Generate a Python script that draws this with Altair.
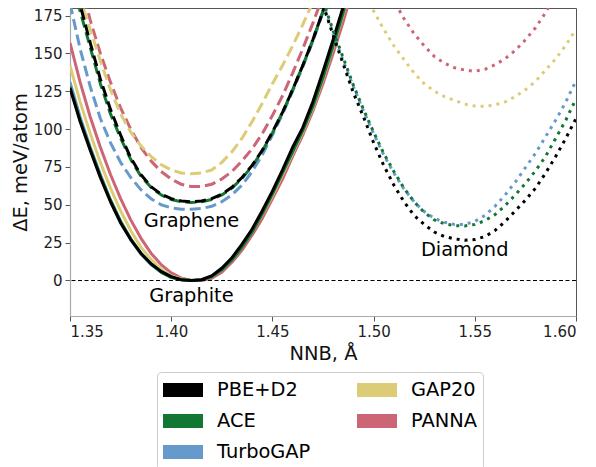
import altair as alt
import pandas as pd

# ---------------- data ----------------
models_legend_order = ["PBE+D2", "ACE", "TurboGAP", "GAP20", "PANNA"]
model_colors = ["#000000", "#117733", "#6699CC", "#DDCC77", "#CC6677"]
draw_order = ["PANNA", "GAP20", "TurboGAP", "ACE", "PBE+D2"]

# NNB grid for graphite / graphene curves
x_layer = [1.350, 1.355, 1.360, 1.365, 1.370, 1.375, 1.380, 1.385, 1.390, 1.395,
           1.400, 1.405, 1.410, 1.415, 1.420, 1.425, 1.430, 1.435, 1.440, 1.445,
           1.450, 1.455, 1.460, 1.465, 1.470, 1.475, 1.480, 1.485, 1.490]

graphite = {
    "PBE+D2":   [127, 105, 86, 68, 52, 38, 27, 18, 11, 6, 2.5, 0.5, 0, 0.5, 3, 8, 15, 24, 34, 46, 59, 73, 88, 101, 118, 138, 159, 181, 204],
    "ACE":      [128, 106, 87, 69, 53, 39, 27.5, 18, 11, 5.5, 2, 0.5, 0, 0.3, 2.5, 7, 13.5, 22, 32, 44, 57, 71, 85, 99, 115, 134, 155, 177, 200],
    "TurboGAP": [131, 108, 88, 70, 53, 39, 27, 17.5, 10.5, 5.5, 2, 0.5, 0, 0.5, 3, 8, 14.5, 23, 33, 45, 58, 72, 87, 100, 117, 136, 157, 179, 202],
    "GAP20":    [142, 118, 97, 78, 61, 46, 33, 22, 14, 7.5, 3, 1, 0, 0.5, 2.5, 7, 13.5, 22, 32, 43.5, 56, 70, 84, 98, 114, 133, 154, 176, 199],
    "PANNA":    [157, 131, 108, 88, 70, 54, 40, 28, 18, 10.5, 5, 1.5, 0, 0, 1.5, 5.5, 12, 20, 30, 41, 54, 67, 82, 96, 112, 130, 150, 171, 194],
}

graphene = {
    "PBE+D2":   [210, 182, 157, 133, 113, 96, 81, 70, 62, 57, 54, 52.5, 52, 52.5, 54, 57, 61.5, 68, 76, 86, 98, 111, 126, 142, 159, 178, 198, 220, 243],
    "ACE":      [205, 178, 154, 130, 110, 94, 80, 69, 61.5, 56.5, 53.5, 52, 51.5, 52, 53.5, 56.5, 61, 67.5, 75.5, 85.5, 97.5, 111, 126, 142, 159, 178, 198, 220, 243],
    "TurboGAP": [183, 153, 128, 107, 91, 78, 68, 60, 54, 50, 48, 47, 47, 47.5, 49, 52, 56.5, 63, 72, 83, 96, 110, 125, 141, 158, 177, 197, 219, 242],
    "GAP20":    [210, 186, 166, 145, 126, 110, 98, 89, 82, 76.5, 73, 71, 70.5, 71, 73, 78, 85, 94, 105, 117, 130, 142, 155, 169, 184, 200, 217, 235, 254],
    "PANNA":    [228, 198, 172, 150, 131, 114, 100, 88, 79, 72, 67, 63.5, 62, 62, 63.5, 67, 72, 79, 87, 97, 109, 122, 137, 153, 170, 188, 207, 227, 248],
}

# NNB grid for diamond curves
x_diamond = [1.475, 1.480, 1.485, 1.490, 1.495, 1.500, 1.505, 1.510, 1.515, 1.520,
             1.525, 1.530, 1.535, 1.540, 1.545, 1.550, 1.555, 1.560, 1.565, 1.570,
             1.575, 1.580, 1.585, 1.590, 1.595, 1.600]

diamond = {
    "PBE+D2":   [182, 162, 143, 124, 108, 91, 76, 63, 52, 43, 37, 32, 29, 27.5, 26.5, 27, 29, 33, 39, 46, 53, 61, 71, 82, 94, 107],
    "ACE":      [185, 165, 147, 129, 113, 98, 84, 72, 61, 52, 45, 40, 37.5, 36.2, 36, 37, 39.5, 43.5, 49.5, 56.5, 64, 72.5, 82, 94, 106, 120],
    "TurboGAP": [183, 163, 145, 128, 112, 97, 83, 71, 60.5, 52, 45.5, 41, 38.5, 37, 37, 39, 43, 49, 56.5, 65, 74.5, 84, 95, 106, 118, 132],
    "GAP20":    [245, 230, 217, 205, 192, 178, 166, 155, 146, 137, 130, 125, 121.5, 119, 116.5, 115.2, 115, 116, 118, 121.5, 126, 131.5, 139, 146.5, 155.5, 166],
    "PANNA":    [300, 275, 255, 237, 222, 209, 197, 185, 173, 163, 155, 148, 143.5, 140.5, 139, 138.2, 139.5, 142.5, 146.5, 152, 159, 167, 177, 189, 202, 216],
}

annot_text = ["Graphene", "Graphite", "Diamond"]
annot_x = [1.410, 1.410, 1.545]
annot_y = [39.5, -10.5, 20]

x_ticks = [1.35, 1.40, 1.45, 1.50, 1.55, 1.60]
y_ticks = [0, 25, 50, 75, 100, 125, 150, 175]

# ---------------- build table ----------------
rows = []
for phase, xs, table in [("graphite", x_layer, graphite),
                         ("graphene", x_layer, graphene),
                         ("diamond", x_diamond, diamond)]:
    for k, m in enumerate(draw_order):
        for x, e in zip(xs, table[m]):
            rows.append({"x": x, "E": e, "model": m, "phase": phase, "z": k})
df = pd.DataFrame(rows)

FONT = "DejaVu Sans"

x_enc = alt.X("x:Q",
              scale=alt.Scale(domain=[1.35, 1.60], nice=False, zero=False),
              axis=alt.Axis(values=x_ticks, format=".2f", title="NNB, Å",
                            grid=False, tickSize=5, labelPadding=3,
                            titlePadding=5))
y_enc = alt.Y("E:Q",
              scale=alt.Scale(domain=[-23.5, 180], nice=False, zero=False),
              axis=alt.Axis(values=y_ticks, title="ΔE, meV/atom", grid=False,
                            tickSize=5, labelPadding=3, titlePadding=3))

color_scale = alt.Scale(domain=models_legend_order, range=model_colors)

legend = alt.Legend(title=None, orient="none", legendX=87, legendY=364,
                    columns=2, symbolType="stroke", symbolSize=1600,
                    symbolStrokeWidth=14, symbolOffset=-7, labelOffset=7,
                    clipHeight=24, rowPadding=7, columnPadding=46,
                    labelFontSize=19.4, labelFont=FONT, labelColor="black",
                    padding=6, strokeColor="#cccccc", fillColor="white",
                    cornerRadius=4, symbolOpacity=1)


def phase_layer(phase, dash, leg):
    enc = dict(x=x_enc, y=y_enc,
               color=alt.Color("model:N", scale=color_scale, legend=leg),
               detail="z:N",
               strokeWidth=alt.value(3))
    if dash is not None:
        enc["strokeDash"] = alt.value(dash)
    return (alt.Chart(df)
            .transform_filter(alt.datum.phase == phase)
            .mark_line(clip=True, strokeCap="butt", strokeJoin="round")
            .encode(**enc))


graphite_layer = phase_layer("graphite", None, legend)
graphene_layer = phase_layer("graphene", [11, 5], None)
diamond_layer = phase_layer("diamond", [3, 5], None)

zero_rule = (alt.Chart(pd.DataFrame({"E": [0]}))
             .mark_rule(color="black", strokeWidth=1.1, strokeDash=[4, 2.5])
             .encode(y="E:Q"))

annots = (alt.Chart(pd.DataFrame({"x": annot_x, "E": annot_y, "t": annot_text}))
          .mark_text(font=FONT, fontSize=19.4, color="black", align="center",
                     baseline="middle")
          .encode(x="x:Q", y="E:Q", text="t:N"))

chart = (alt.layer(graphite_layer, graphene_layer, diamond_layer, zero_rule, annots)
         .properties(width=506, height=308,
                     autosize=alt.AutoSizeParams(type="none"),
                     padding={"left": 62, "top": 0, "right": 12, "bottom": 160})
         .configure_view(stroke="#555555", strokeWidth=1)
         .configure_axis(labelFont=FONT, titleFont=FONT, labelFontSize=15,
                         titleFontSize=19.4, titleFontWeight="normal",
                         labelColor="#222222", titleColor="#111111",
                         domainColor="#aaaaaa", tickColor="#555555",
                         domainWidth=1.2, tickWidth=1))

chart.save("out.html", embed_options={"renderer": "svg", "actions": False})
